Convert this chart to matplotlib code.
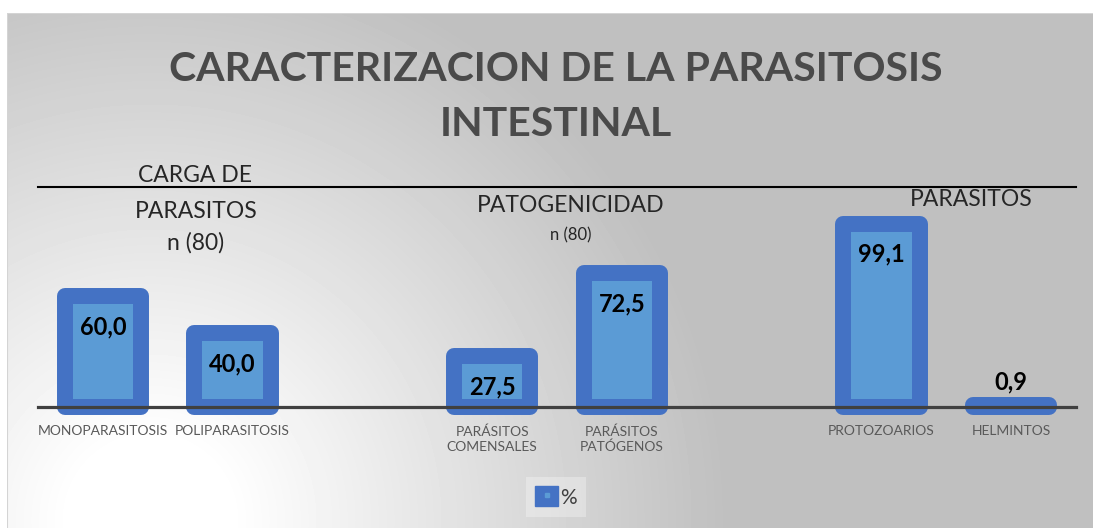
import numpy as np
import matplotlib
matplotlib.use("Agg")
import matplotlib.pyplot as plt
from matplotlib.patches import Patch
from matplotlib.lines import Line2D
from matplotlib.legend_handler import HandlerTuple

plt.rcParams['font.family'] = ['Lato', 'DejaVu Sans']

# data
categories = ['MONOPARASITOSIS', 'POLIPARASITOSIS', 'PARÁSITOS\nCOMENSALES',
              'PARÁSITOS\nPATÓGENOS', 'PROTOZOARIOS', 'HELMINTOS']
values = [60.0, 40.0, 27.5, 72.5, 99.1, 0.9]
slots = [0, 1, 3, 4, 6, 7]          # empty slots 2 and 5 separate the groups
value_labels = ['60,0', '40,0', '27,5', '72,5', '99,1', '0,9']
group_titles = ['CARGA DE\nPARASITOS', 'PATOGENICIDAD', 'PARASITOS']
group_n = ['n (80)', 'n (80)', '']
series_name = '%'

W, H = 1093, 528
fig = plt.figure(figsize=(W / 100, H / 100), dpi=100)
fig.patch.set_facecolor('white')

# background with grey -> white radial gradient (bottom-left light)
x0, y0 = 7, 13
bg = fig.add_axes([x0 / W, 0, 1 - x0 / W, (H - y0) / H])
xx, yy = np.meshgrid(np.arange(x0, W), np.arange(y0, H))
d = np.sqrt((xx - 150) ** 2 + (yy - 520) ** 2)
t = np.clip((d - 80) / 500, 0, 1)
shade = 1 - t * (1 - 0.75)
bg.imshow(shade, cmap='gray', vmin=0, vmax=1, aspect='auto',
          extent=[0, 1, 0, 1], interpolation='bilinear')
# frame border only on left and top (the right side runs off the picture)
bg.plot([0, 0, 1], [0, 1, 1], transform=bg.transAxes, color='#d4d4d4', lw=1.5)
bg.set_xlim(0, 1)
bg.set_ylim(0, 1)
bg.axis('off')

# plot area
ax = fig.add_axes([38 / W, (H - 407) / H, 1038 / W, 220 / H])
ax.patch.set_alpha(0)
ax.set_xlim(-0.5, 7.5)
ax.set_ylim(0, 119)

bars = ax.bar(slots, values, width=0.59, color='#5B9BD5', edgecolor='#4472C4',
              linewidth=11.5, zorder=2, clip_on=False)
for b in bars:
    b.set_joinstyle('round')

for x, v, lab in zip(slots, values, value_labels):
    off = -22 if v > 10 else 17
    ax.annotate(lab, (x, v), xytext=(0, off), textcoords='offset points',
                ha='center', va='center', fontsize=17, fontweight='bold',
                color='black', zorder=4)

for s in ['left', 'right']:
    ax.spines[s].set_visible(False)
ax.spines['bottom'].set_color('#404040')
ax.spines['bottom'].set_linewidth(2.3)
ax.spines['bottom'].set_zorder(3)
ax.spines['top'].set_color('black')
ax.spines['top'].set_linewidth(1.5)
ax.set_yticks([])
ax.set_xticks(slots)
ax.set_xticklabels(categories, fontsize=10, color='#595959', linespacing=1.3)
ax.tick_params(axis='x', length=0, pad=13)

# group headings
head = dict(ha='center', va='center', fontsize=16.5, color='#262626')
fig.text(195 / W, 1 - 176 / H, 'CARGA DE', **head)
fig.text(196 / W, 1 - 212 / H, 'PARASITOS', **head)
fig.text(196 / W, 1 - 243 / H, group_n[0], **head)
fig.text(571 / W, 1 - 206 / H, group_titles[1], **head)
fig.text(571 / W, 1 - 235 / H, group_n[1], ha='center', va='center',
         fontsize=12, color='#262626')
fig.text(971 / W, 1 - 199 / H, group_titles[2], **head)

# title
fig.text(556 / W, 1 - 97 / H, 'CARACTERIZACION DE LA PARASITOSIS\nINTESTINAL',
         ha='center', va='center', fontsize=29.5, fontweight='bold',
         color='#4a4a4a', linespacing=1.62)

# legend
handle = (Patch(fc='#4472C4', ec='#4472C4'),
          Line2D([], [], marker='s', ls='', color='#5B9BD5', ms=3))
leg = fig.legend([handle], [series_name], loc='center',
                 bbox_to_anchor=(556 / W, 1 - 497 / H), fontsize=15,
                 handler_map={tuple: HandlerTuple(ndivide=1)},
                 handlelength=1.1, handleheight=1.1, handletextpad=0.1,
                 frameon=True, fancybox=False, borderpad=0.45,
                 borderaxespad=0)
leg.get_frame().set_facecolor('white')
leg.get_frame().set_alpha(0.3)
leg.get_frame().set_edgecolor('none')
for t_ in leg.get_texts():
    t_.set_color('#404040')

fig.savefig('out.png', dpi=100)
